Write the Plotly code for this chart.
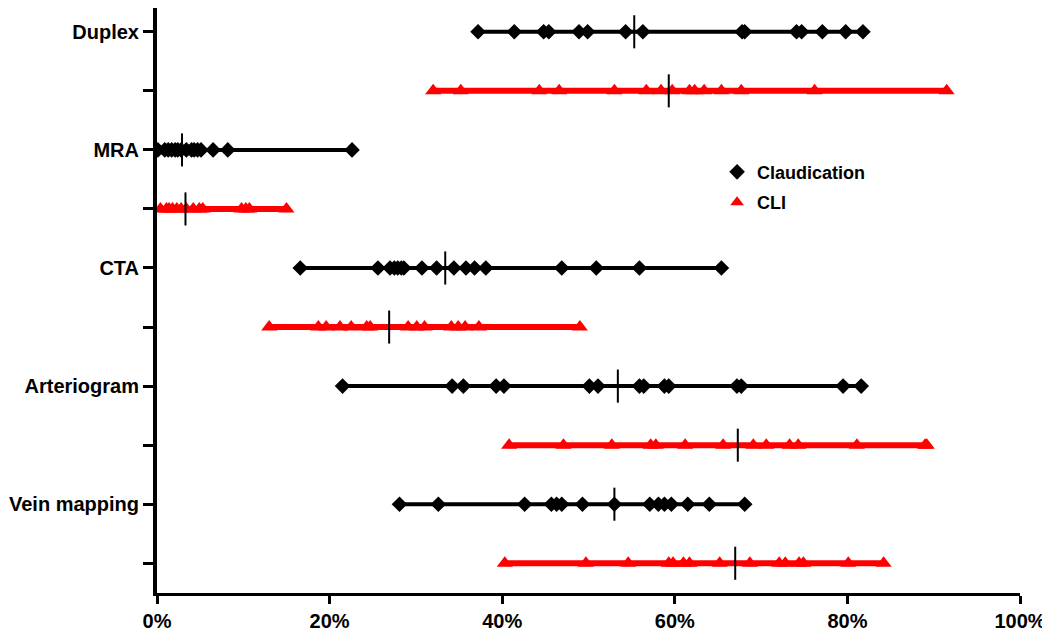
import plotly.graph_objects as go

categories = ["Duplex", "MRA", "CTA", "Arteriogram", "Vein mapping"]

claud_values = [
    [37.2, 41.4, 44.8, 45.4, 48.9, 49.9, 54.3, 56.3, 67.8, 68.1, 74.1, 74.7, 77.1, 79.8, 81.8],
    [0.1, 0.9, 1.3, 1.7, 2.1, 2.4, 2.8, 3.4, 4.0, 4.3, 4.7, 5.1, 6.5, 8.2, 22.6],
    [16.6, 25.6, 27.0, 27.5, 27.9, 28.3, 28.6, 30.7, 32.4, 34.4, 35.8, 36.8, 38.1, 46.9, 50.9, 55.9, 65.4],
    [21.5, 34.2, 35.5, 39.3, 40.2, 50.1, 51.1, 55.9, 56.4, 58.8, 59.3, 67.2, 67.7, 79.5, 81.6],
    [28.1, 32.6, 42.6, 45.7, 46.3, 46.9, 49.3, 53.0, 57.1, 58.1, 58.8, 59.6, 61.5, 64.0, 68.1],
]
claud_median = [55.3, 2.9, 33.4, 53.4, 53.0]

cli_values = [
    [32.0, 35.2, 44.3, 46.6, 53.0, 56.7, 58.4, 59.7, 61.7, 62.3, 63.4, 65.4, 67.7, 76.2, 91.5],
    [0.4, 1.1, 1.4, 1.8, 2.3, 2.8, 3.4, 4.2, 4.9, 5.3, 9.8, 10.3, 10.7, 15.0],
    [13.0, 18.7, 19.6, 21.2, 22.5, 24.3, 24.7, 29.1, 30.1, 31.0, 34.1, 34.9, 35.7, 37.3, 49.0],
    [40.8, 47.1, 52.7, 57.2, 57.8, 61.2, 65.6, 69.1, 70.6, 73.3, 74.3, 81.1, 89.0, 89.2],
    [40.3, 49.7, 54.6, 59.3, 59.8, 61.0, 61.7, 65.2, 68.7, 72.1, 72.8, 74.4, 74.9, 80.1, 84.2],
]
cli_median = [59.3, 3.3, 26.9, 67.3, 67.0]

x_tickvals = [0, 20, 40, 60, 80, 100]
x_ticktext = ["0%", "20%", "40%", "60%", "80%", "100%"]

FONT = "Liberation Sans, Arial, sans-serif"
fig = go.Figure()

groups = [
    ("Claudication", claud_values, claud_median, "black", "diamond", 12, 4, 0),
    ("CLI", cli_values, cli_median, "#ff0000", "triangle-up", 14, 6, 1),
]
half = 0.28
for name, vals_list, meds, color, symbol, msize, lw, offset in groups:
    for i, vals in enumerate(vals_list):
        row = 2 * i + offset
        fig.add_trace(go.Scatter(
            x=[min(vals), max(vals)], y=[row, row], mode="lines",
            line=dict(color=color, width=lw), showlegend=False, hoverinfo="skip"))
        fig.add_trace(go.Scatter(
            x=vals, y=[row] * len(vals), mode="markers",
            marker=dict(symbol=symbol, size=msize, color=color, line=dict(width=0)),
            name=name, showlegend=(i == 0), legendgroup=name))
        fig.add_trace(go.Scatter(
            x=[meds[i], meds[i]], y=[row - half, row + half], mode="lines",
            line=dict(color="black", width=2), showlegend=False, hoverinfo="skip"))

y_tickvals = list(range(10))
y_ticktext = []
for c in categories:
    y_ticktext += [c, ""]

# page body has an 8px margin; size the figure to fit the 1050x632 window
fig.update_layout(
    width=1042, height=624,
    margin=dict(l=149, r=30, t=0, b=26),
    plot_bgcolor="white", paper_bgcolor="white",
    font=dict(family=FONT, color="black"),
    legend=dict(x=0.649, y=0.751, xanchor="left", yanchor="top",
                font=dict(family=FONT, size=18, weight="bold", color="black"),
                bgcolor="rgba(0,0,0,0)", itemsizing="constant", tracegroupgap=4),
    xaxis=dict(range=[0, 100], tickvals=x_tickvals, ticktext=x_ticktext,
               showgrid=False, zeroline=False, showline=True, linecolor="black",
               linewidth=3, ticks="outside", ticklen=8, tickwidth=3, tickcolor="black",
               tickfont=dict(family=FONT, size=20, weight="bold", color="black")),
    yaxis=dict(range=[9.504, -0.403], tickvals=y_tickvals, ticktext=y_ticktext,
               showgrid=False, zeroline=False, showline=True, linecolor="black",
               linewidth=4, ticks="outside", ticklen=10, tickwidth=3, tickcolor="black",
               tickfont=dict(family=FONT, size=20, weight="bold", color="black")),
)

fig.write_html("out.html")
